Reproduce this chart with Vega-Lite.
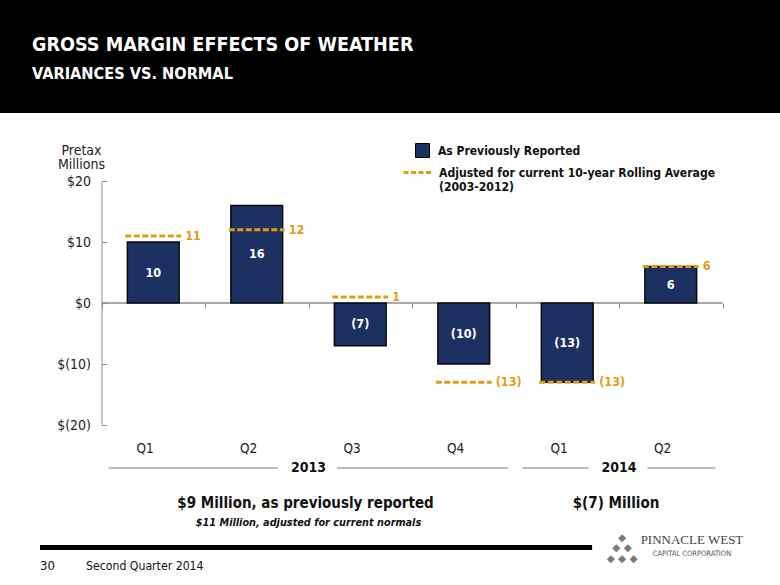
{
  "$schema": "https://vega.github.io/schema/vega-lite/v6.json",
  "padding": 0,
  "spacing": 0,
  "background": "white",
  "config": {
    "view": {"stroke": null},
    "font": "DejaVu Sans Condensed, DejaVu Sans",
    "concat": {"spacing": 0}
  },
  "datasets": {
    "quarters": [
      {"quarter": "Q1 2013", "reported": 10, "adjusted": 11},
      {"quarter": "Q2 2013", "reported": 16, "adjusted": 12},
      {"quarter": "Q3 2013", "reported": -7, "adjusted": 1},
      {"quarter": "Q4 2013", "reported": -10, "adjusted": -13},
      {"quarter": "Q1 2014", "reported": -13, "adjusted": -13},
      {"quarter": "Q2 2014", "reported": 6, "adjusted": 6}
    ],
    "years": [
      {"year": "2013", "first": "Q1 2013", "before": "Q2 2013", "after": "Q3 2013", "last": "Q4 2013", "summary": "$9 Million, as previously reported", "note": "$11 Million, adjusted for current normals"},
      {"year": "2014", "first": "Q1 2014", "before": "Q1 2014", "after": "Q2 2014", "last": "Q2 2014", "summary": "$(7) Million", "note": ""}
    ],
    "footer": [
      {"start": "Q1 2013", "end": "Q1 2014", "logoAt": "Q2 2014", "page": "30", "caption": "Second Quarter 2014", "company": "PINNACLE WEST", "division": "CAPITAL CORPORATION", "mark": ["◆", "◆ ◆", "◆ ◆ ◆"]}
    ]
  },
  "vconcat": [
    {
      "width": 780,
      "height": 113,
      "data": {"values": [{}]},
      "mark": {"type": "rect", "color": "black"},
      "title": {
        "text": "GROSS MARGIN EFFECTS OF WEATHER",
        "subtitle": "VARIANCES VS. NORMAL",
        "anchor": "start",
        "frame": "group",
        "orient": "top",
        "offset": -83,
        "dx": 32,
        "color": "white",
        "subtitleColor": "white",
        "font": "DejaVu Sans Condensed, DejaVu Sans",
        "subtitleFont": "DejaVu Sans Condensed, DejaVu Sans",
        "fontSize": 19.6,
        "subtitleFontSize": 16.2,
        "fontWeight": "bold",
        "subtitleFontWeight": "bold",
        "subtitlePadding": 10
      }
    },
    {
      "width": 780,
      "height": 472,
      "resolve": {"scale": {"y": "independent"}, "axis": {"y": "independent"}},
      "layer": [
        {
          "layer": [
            {
              "data": {"values": [{"start": "Q1 2013", "end": "Q2 2014"}]},
              "mark": {"type": "rule", "color": "#8c8c8c", "strokeWidth": 1.5},
              "encoding": {
                "x": {"field": "start", "type": "nominal", "bandPosition": 0, "title": null},
                "x2": {"field": "end", "bandPosition": 1},
                "y": {"datum": 0}
              }
            },
            {
              "data": {"name": "quarters"},
              "mark": {"type": "bar", "width": {"band": 0.5}, "stroke": "#05080f", "strokeWidth": 1.5},
              "encoding": {
                "x": {
                  "field": "quarter", "type": "nominal", "title": null, "sort": null,
                  "scale": {"type": "band", "domain": ["Q1 2013", "Q2 2013", "Q3 2013", "Q4 2013", "Q1 2014", "Q2 2014"], "paddingInner": 0, "paddingOuter": 0.7681, "align": 0.6384},
                  "axis": {
                    "title": null, "orient": "bottom", "offset": -282, "domain": false,
                    "tickBand": "extent", "tickSize": 5, "tickColor": "#8c8c8c", "tickWidth": 1,
                    "labelPadding": 140, "labelFontSize": 13.5, "labelColor": "#222", "labelAngle": 0,
                    "labelExpr": "split(datum.label, ' ')[0]"
                  }
                },
                "y": {
                  "field": "reported", "type": "quantitative",
                  "scale": {"domain": [-20, 20], "range": [312, 68], "nice": false},
                  "axis": {
                    "title": ["Pretax", "Millions"], "titleAngle": 0, "titleAlign": "center", "titleBaseline": "top",
                    "titleX": -20.5, "titleY": 30, "titleFontSize": 14, "titleFontWeight": "normal", "titleLineHeight": 14.5, "titleColor": "#222",
                    "offset": -101.5, "values": [-20, -10, 0, 10, 20],
                    "labelExpr": "datum.value < 0 ? '$(' + abs(datum.value) + ')' : '$' + datum.value",
                    "tickSize": -5, "labelPadding": 16, "domainColor": "#8c8c8c", "tickColor": "#8c8c8c",
                    "labelFontSize": 14, "labelColor": "#222", "grid": false
                  }
                },
                "y2": {"datum": 0},
                "fill": {
                  "datum": "As Previously Reported", "type": "nominal",
                  "scale": {"range": ["#1c3161"]},
                  "legend": {
                    "title": null, "orient": "none", "legendX": 415, "legendY": 143,
                    "symbolType": "square", "symbolSize": 196, "symbolStrokeColor": "#000", "symbolStrokeWidth": 1,
                    "labelFontSize": 12, "labelFontWeight": "bold", "labelColor": "#111", "labelOffset": 8, "labelLimit": 500
                  }
                }
              }
            },
            {
              "data": {"name": "quarters"},
              "mark": {"type": "rule", "strokeWidth": 3, "strokeDash": [6, 2.5]},
              "encoding": {
                "x": {"field": "quarter", "type": "nominal", "bandPosition": 0.23, "title": null},
                "x2": {"field": "quarter", "bandPosition": 0.77},
                "y": {"field": "adjusted", "type": "quantitative"},
                "stroke": {
                  "datum": "Adjusted for current 10-year Rolling Average (2003-2012)", "type": "nominal",
                  "scale": {"range": ["#e39b14"]},
                  "legend": {
                    "title": null, "orient": "none", "legendX": 402, "legendY": 157,
                    "symbolType": "stroke", "symbolSize": 784, "symbolStrokeWidth": 3, "symbolDash": [5, 2.5],
                    "labelExpr": "['Adjusted for current 10-year Rolling Average', '(2003-2012)']",
                    "labelFontSize": 12.1, "labelFontWeight": "bold", "labelColor": "#111", "labelOffset": 6, "labelLimit": 500
                  }
                }
              }
            },
            {
              "data": {"name": "quarters"},
              "mark": {"type": "text", "align": "left", "dx": 4, "color": "#e39b14", "fontWeight": "bold", "fontSize": 12.5},
              "encoding": {
                "x": {"field": "quarter", "type": "nominal", "bandPosition": 0.77, "title": null},
                "y": {"field": "adjusted", "type": "quantitative"},
                "text": {"field": "adjusted", "type": "quantitative", "format": "("}
              }
            },
            {
              "data": {"name": "years"},
              "mark": {"type": "rule", "color": "#777777", "strokeWidth": 1.2},
              "encoding": {
                "x": {"field": "first", "type": "nominal", "bandPosition": 0.07, "title": null},
                "x2": {"field": "before", "bandPosition": 0.705},
                "y": {"datum": -27.05}
              }
            },
            {
              "data": {"name": "years"},
              "mark": {"type": "rule", "color": "#777777", "strokeWidth": 1.2},
              "encoding": {
                "x": {"field": "after", "type": "nominal", "bandPosition": 0.275, "title": null},
                "x2": {"field": "last", "bandPosition": 0.93},
                "y": {"datum": -27.05}
              }
            },
            {
              "data": {"name": "years"},
              "mark": {"type": "text", "fontWeight": "bold", "fontSize": 14, "color": "#111"},
              "encoding": {
                "x": {"field": "after", "type": "nominal", "bandPosition": 0, "title": null},
                "y": {"datum": -27.05},
                "text": {"field": "year"}
              }
            },
            {
              "data": {"name": "years"},
              "mark": {"type": "text", "fontWeight": "bold", "fontSize": 15, "color": "#111", "dx": -3},
              "encoding": {
                "x": {"field": "after", "type": "nominal", "bandPosition": 0, "title": null},
                "y": {"datum": -32.8},
                "text": {"field": "summary"}
              }
            },
            {
              "data": {"name": "years"},
              "mark": {"type": "text", "fontWeight": "bold", "fontStyle": "italic", "fontSize": 10.8, "color": "#111"},
              "encoding": {
                "x": {"field": "after", "type": "nominal", "bandPosition": 0, "title": null},
                "y": {"datum": -36.1},
                "text": {"field": "note"}
              }
            },
            {
              "data": {"name": "footer"},
              "mark": {"type": "rule", "color": "#000000", "strokeWidth": 5},
              "encoding": {
                "x": {"field": "start", "type": "nominal", "bandPosition": -0.594, "title": null},
                "x2": {"field": "end", "bandPosition": 0.74},
                "y": {"datum": -40.1}
              }
            },
            {
              "data": {"name": "footer"},
              "mark": {"type": "text", "align": "left", "fontSize": 13, "color": "#111"},
              "encoding": {
                "x": {"field": "start", "type": "nominal", "bandPosition": -0.594, "title": null},
                "y": {"datum": -43.1},
                "text": {"field": "page"}
              }
            },
            {
              "data": {"name": "footer"},
              "mark": {"type": "text", "align": "left", "fontSize": 12.2, "color": "#111"},
              "encoding": {
                "x": {"field": "start", "type": "nominal", "bandPosition": -0.15, "title": null},
                "y": {"datum": -43.1},
                "text": {"field": "caption"}
              }
            },
            {
              "data": {"name": "footer"},
              "mark": {"type": "text", "font": "Liberation Serif", "fontSize": 13, "color": "#444"},
              "encoding": {
                "x": {"field": "logoAt", "type": "nominal", "bandPosition": 0.705, "title": null},
                "y": {"datum": -38.9},
                "text": {"field": "company"}
              }
            },
            {
              "data": {"name": "footer"},
              "mark": {"type": "text", "fontSize": 7.5, "color": "#555"},
              "encoding": {
                "x": {"field": "logoAt", "type": "nominal", "bandPosition": 0.705, "title": null},
                "y": {"datum": -41.1},
                "text": {"field": "division"}
              }
            },
            {
              "data": {"name": "footer"},
              "mark": {"type": "text", "font": "DejaVu Sans", "fontSize": 10.5, "lineHeight": 10.5, "color": "#7a7a7a", "baseline": "middle"},
              "encoding": {
                "x": {"field": "logoAt", "type": "nominal", "bandPosition": 0.03, "title": null},
                "y": {"datum": -38.5},
                "text": {"field": "mark"}
              }
            }
          ]
        },
        {
          "data": {"name": "quarters"},
          "mark": {"type": "text", "color": "white", "fontWeight": "bold", "fontSize": 12.5},
          "encoding": {
            "x": {"field": "quarter", "type": "nominal", "title": null, "sort": null},
            "y": {"field": "reported", "type": "quantitative", "scale": {"domain": [-40, 40], "range": [312, 68], "nice": false}, "axis": null},
            "text": {"field": "reported", "type": "quantitative", "format": "("}
          }
        }
      ]
    }
  ]
}
